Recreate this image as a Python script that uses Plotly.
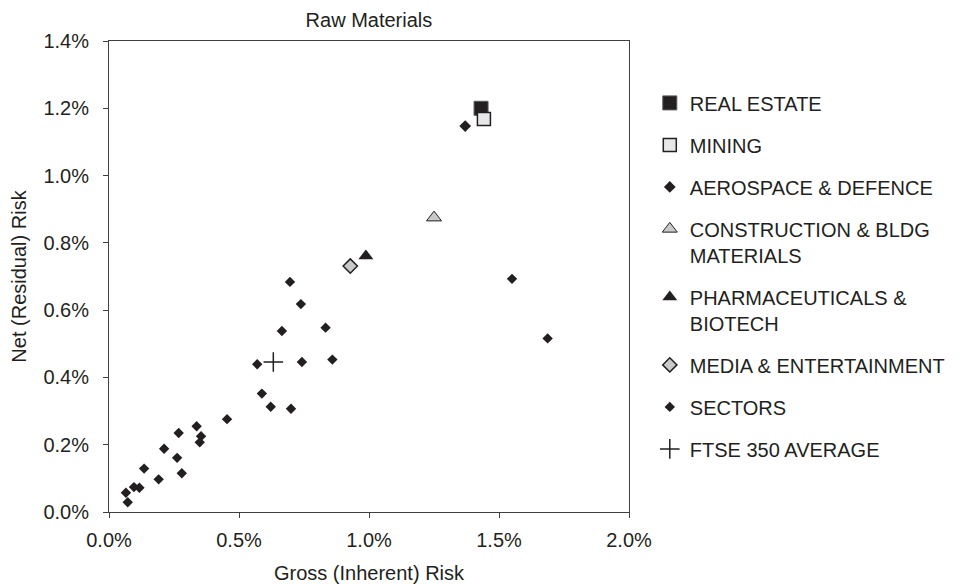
import plotly.graph_objects as go

# Values in percent (gross = x, net = y)
sectors_x = [0.065, 0.072, 0.096, 0.117, 0.135, 0.191, 0.212, 0.262, 0.268, 0.280, 0.337, 0.354, 0.349,
             0.454, 0.570, 0.588, 0.622, 0.665, 0.696, 0.700, 0.738, 0.742, 0.833, 0.859, 1.550, 1.687]
sectors_y = [0.057, 0.029, 0.074, 0.072, 0.129, 0.097, 0.188, 0.161, 0.235, 0.115, 0.255, 0.225, 0.207,
             0.276, 0.439, 0.352, 0.313, 0.538, 0.684, 0.307, 0.618, 0.446, 0.548, 0.453, 0.693, 0.516]

real_estate = (1.431, 1.200)
mining = (1.442, 1.168)
aerospace = (1.370, 1.147)
construction = (1.250, 0.875)
pharma = (0.988, 0.761)
media = (0.928, 0.731)
ftse = (0.632, 0.446)

x_ticks = [0.0, 0.5, 1.0, 1.5, 2.0]
x_labels = ["0.0%", "0.5%", "1.0%", "1.5%", "2.0%"]
y_ticks = [0.0, 0.2, 0.4, 0.6, 0.8, 1.0, 1.2, 1.4]
y_labels = ["0.0%", "0.2%", "0.4%", "0.6%", "0.8%", "1.0%", "1.2%", "1.4%"]

DARK = "#231f20"
FONT = "Liberation Sans, Arial, Helvetica, sans-serif"

fig = go.Figure()

def add(name, pt, symbol, size, color, line_color=None, line_width=0, rank=1, xs=None, ys=None):
    fig.add_trace(go.Scatter(
        x=xs if xs is not None else [pt[0]],
        y=ys if ys is not None else [pt[1]],
        mode="markers", name=name, legendgroup=name, legendrank=rank,
        marker=dict(symbol=symbol, size=size, color=color,
                    line=dict(color=line_color or color, width=line_width)),
        hoverinfo="x+y+name",
    ))

add("SECTORS", None, "diamond", 8, DARK, rank=7, xs=sectors_x, ys=sectors_y)
add("FTSE 350 AVERAGE", ftse, "cross-thin", 14, DARK, DARK, 1.5, rank=8)
add("MEDIA & ENTERTAINMENT", media, "diamond", 11, "#c8c9cb", DARK, 1.5, rank=6)
add("PHARMACEUTICALS &<br>BIOTECH", pharma, "triangle-up", 13, DARK, rank=5)
add("CONSTRUCTION & BLDG<br>MATERIALS", construction, "triangle-up", 13, "#c8c9cb", DARK, 1, rank=4)
add("AEROSPACE & DEFENCE", aerospace, "diamond", 9, DARK, rank=3)
add("REAL ESTATE", real_estate, "square", 14, DARK, "#58595b", 1, rank=1)
add("MINING", mining, "square", 13, "#e6e7e8", DARK, 1.5, rank=2)

axis_common = dict(
    showline=True, mirror=True, linecolor="#404040", linewidth=1,
    ticks="outside", ticklen=5, tickcolor="#404040", tickwidth=1,
    showgrid=False, zeroline=False, automargin=False,
    tickfont=dict(family=FONT, size=20, color=DARK),
)

# page has an 8px body margin, so the figure is sized 8px smaller
fig.update_layout(
    width=960, height=576,
    margin=dict(l=101, r=339, t=33, b=72, autoexpand=False),
    paper_bgcolor="white", plot_bgcolor="white",
    font=dict(family=FONT, size=20, color=DARK),
    title=dict(text="Raw Materials", x=0.376, xanchor="center", y=1 - 12 / 576, yanchor="middle",
               font=dict(family=FONT, size=20, color=DARK)),
    xaxis=dict(range=[0, 2.0], tickmode="array", tickvals=x_ticks, ticktext=x_labels,
               ticklabelstandoff=5,
               title=dict(text="Gross (Inherent) Risk", font=dict(family=FONT, size=20, color=DARK), standoff=17),
               **axis_common),
    yaxis=dict(range=[0, 1.4], tickmode="array", tickvals=y_ticks, ticktext=y_labels,
               ticklabelstandoff=10,
               title=dict(text="Net (Residual) Risk", font=dict(family=FONT, size=20, color=DARK), standoff=16),
               **axis_common),
    legend=dict(x=1.04, xanchor="left", y=0.91, yanchor="top", valign="top",
                tracegroupgap=13, font=dict(family=FONT, size=20, color=DARK),
                bgcolor="rgba(0,0,0,0)", itemwidth=30),
    showlegend=True,
)

fig.write_html("out.html")
